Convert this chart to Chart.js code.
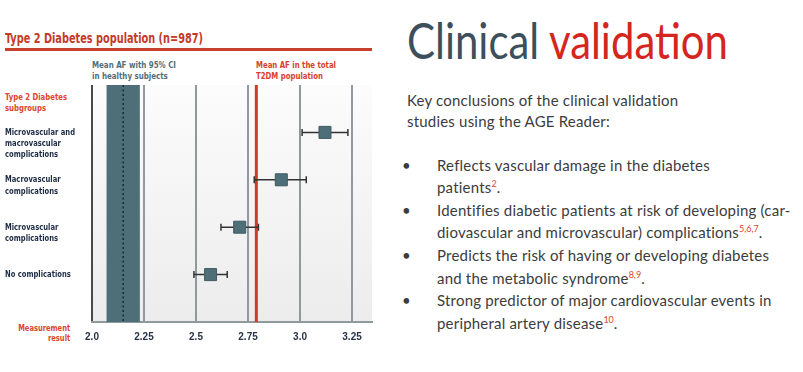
<!DOCTYPE html>
<html><head><meta charset="utf-8">
<script src="https://cdn.jsdelivr.net/npm/chart.js@4/dist/chart.umd.min.js"></script>
<style>
html,body{margin:0;padding:0;background:#fff;width:803px;height:372px;overflow:hidden;position:relative}
.abs{position:absolute;white-space:nowrap}
.narrow{font-family:'Liberation Sans Narrow','DejaVu Sans Condensed','Arial Narrow',sans-serif;font-weight:bold}
.body{font-family:Lato,'Open Sans',sans-serif;color:#3c3c3c;font-size:15px;letter-spacing:0.2px}
sup{color:#e0442e;font-size:9px;vertical-align:6px;line-height:0;letter-spacing:0}
</style></head><body>
<div class="abs narrow fitw" data-w="198" style="left:5px;top:29px;font-size:13.5px;line-height:18px;color:#c23b27;transform-origin:0 0">Type 2 Diabetes population (n=987)</div>
<div class="abs" style="left:5px;top:47.5px;width:367px;height:3px;background:#c8412c"></div>
<div class="abs narrow fitw" data-w="84" style="left:92px;top:58.5px;font-size:9.5px;line-height:11px;color:#4f6f78;transform-origin:0 0">Mean AF with 95% CI<br>in healthy subjects</div>
<div class="abs narrow fitw" data-w="80" style="left:256px;top:58.5px;font-size:9.5px;line-height:11px;color:#d8402b;transform-origin:0 0">Mean AF in the total<br>T2DM population</div>
<div class="abs narrow fitw" data-w="62" style="left:5px;top:90.5px;font-size:9.5px;line-height:11px;color:#e0442e;transform-origin:0 0">Type 2 Diabetes<br>subgroups</div>
<div class="abs narrow fitw" data-w="52" style="right:733px;text-align:right;top:322.5px;font-size:9.5px;line-height:10.5px;color:#e0442e;transform-origin:100% 0">Measurement<br>result</div>
<div id="wrap" class="abs" style="left:0;top:0;width:385px;height:350px"><canvas id="c"></canvas></div>

<div id="head" class="abs" style="left:407px;top:14.6px;font-family:Lato,'Open Sans',sans-serif;font-size:50px;line-height:50px;transform-origin:0 0"><span style="color:#3d4f5a">Clinical</span> <span style="color:#d4261e">validation</span></div>
<div class="abs body" style="left:407px;top:89.5px;line-height:21px">Key conclusions of the clinical validation<br>studies using the AGE Reader:</div>
<div class="abs body" style="left:402px;top:153.7px;line-height:22.6px">
<div style="position:relative;padding-left:35px">
<span style="position:absolute;left:0">•</span>Reflects vascular damage in the diabetes<br>patients<sup>2</sup>.</div>
<div style="position:relative;padding-left:35px">
<span style="position:absolute;left:0">•</span>Identifies diabetic patients at risk of developing (car-<br>diovascular and microvascular) complications<sup>5,6,7</sup>.</div>
<div style="position:relative;padding-left:35px">
<span style="position:absolute;left:0">•</span>Predicts the risk of having or developing diabetes<br>and the metabolic syndrome<sup>8,9</sup>.</div>
<div style="position:relative;padding-left:35px">
<span style="position:absolute;left:0">•</span>Strong predictor of major cardiovascular events in<br>peripheral artery disease<sup>10</sup>.</div>
</div>

<script>
// ---- data ----
const categories = [["Microvascular and","macrovascular","complications"],["Macrovascular","complications"],["Microvascular","complications"],["No complications"]];
const rowPos = [4, 3, 2, 1];
const meanAF = [3.12, 2.91, 2.71, 2.57];
const ciLow = [3.01, 2.78, 2.62, 2.49];
const ciHigh = [3.23, 3.03, 2.80, 2.65];
const healthyMean = 2.15;
const healthyLow = 2.07;
const healthyHigh = 2.23;
const t2dmMean = 2.79;
const xTicks = [2.0, 2.25, 2.5, 2.75, 3.0, 3.25];
const xTickLabels = ["2.0", "2.25", "2.5", "2.75", "3.0", "3.25"];

const NARROW = "'Liberation Sans Narrow','DejaVu Sans Condensed','Arial Narrow',sans-serif";

const forestPlugin = {
  id: 'forest',
  beforeDraw(chart) {
    const {ctx, chartArea: a} = chart;
    const g = ctx.createLinearGradient(0, a.top, 0, a.bottom);
    g.addColorStop(0, '#fcfcfc');
    g.addColorStop(1, '#ececec');
    ctx.save(); ctx.fillStyle = g; ctx.fillRect(a.left, a.top, a.right - a.left, a.bottom - a.top); ctx.restore();
  },
  beforeDatasetsDraw(chart) {
    const {ctx, chartArea: a, scales: {x, y}} = chart;
    ctx.save();
    const b1 = x.getPixelForValue(healthyLow), b2 = x.getPixelForValue(healthyHigh);
    ctx.fillStyle = '#4f6f78';
    ctx.fillRect(b1, a.top, b2 - b1, a.bottom - a.top);
    const hm = x.getPixelForValue(healthyMean);
    ctx.strokeStyle = '#1b2a30'; ctx.lineWidth = 1.5; ctx.setLineDash([2, 2.5]);
    ctx.beginPath(); ctx.moveTo(hm, a.top); ctx.lineTo(hm, a.bottom); ctx.stroke();
    ctx.setLineDash([]);
    const rm = x.getPixelForValue(t2dmMean);
    ctx.strokeStyle = '#d33a25'; ctx.lineWidth = 3;
    ctx.beginPath(); ctx.moveTo(rm, a.top); ctx.lineTo(rm, a.bottom); ctx.stroke();
    ctx.strokeStyle = '#333'; ctx.lineWidth = 1.5;
    for (let i = 0; i < meanAF.length; i++) {
      const py = y.getPixelForValue(rowPos[i]);
      const l = x.getPixelForValue(ciLow[i]), h = x.getPixelForValue(ciHigh[i]);
      ctx.beginPath();
      ctx.moveTo(l, py); ctx.lineTo(h, py);
      ctx.moveTo(l, py - 3.5); ctx.lineTo(l, py + 3.5);
      ctx.moveTo(h, py - 3.5); ctx.lineTo(h, py + 3.5);
      ctx.stroke();
    }
    ctx.restore();
  },
  afterDraw(chart) {
    const {ctx, scales: {y}} = chart;
    ctx.save();
    ctx.font = "bold 9.5px " + NARROW;
    ctx.fillStyle = '#1c2a44';
    ctx.textBaseline = 'middle';
    ctx.textAlign = 'left';
    const k = 70 / ctx.measureText(categories[0][0]).width;
    categories.forEach((lines, i) => {
      const py = y.getPixelForValue(rowPos[i]);
      lines.forEach((t, j) => {
        ctx.save();
        ctx.translate(5, py + j * 11.3);
        ctx.scale(k, 1);
        ctx.fillText(t, 0, 0);
        ctx.restore();
      });
    });
    ctx.restore();
  }
};

new Chart(document.getElementById('c'), {
  type: 'scatter',
  data: {
    datasets: [{
      data: meanAF.map((v, i) => ({x: v, y: rowPos[i]})),
      pointStyle: 'rect',
      radius: 8.5,
      hoverRadius: 8.5,
      backgroundColor: '#4f6f78',
      borderColor: '#3e5a62',
      borderWidth: 1
    }]
  },
  options: {
    responsive: true,
    maintainAspectRatio: false,
    animation: false,
    events: [],
    layout: {padding: {left: 92, top: 85, right: 13, bottom: 6}},
    plugins: {legend: {display: false}, tooltip: {enabled: false}},
    scales: {
      x: {
        type: 'linear',
        min: 2.0,
        max: 3.346,
        afterBuildTicks: s => { s.ticks = xTicks.map(v => ({value: v})); },
        afterFit: s => { s.height = 22; },
        ticks: {
          callback: (v) => { const k = xTicks.indexOf(v); return k >= 0 ? xTickLabels[k] : ''; },
          font: {family: "'Liberation Sans',Arial,sans-serif", weight: 'bold', size: 10},
          color: '#26334a',
          padding: 9,
          maxRotation: 0,
          autoSkip: false
        },
        grid: {
          drawTicks: false,
          color: c => (c.tick && c.tick.value === 2.0) ? '#4a4a4a' : '#8e9a9c',
          lineWidth: 2
        },
        border: {display: true, color: '#8e9a9c', width: 2}
      },
      y: {type: 'linear', min: 0, max: 5, display: false}
    }
  },
  plugins: [forestPlugin]
});

// fit text widths
document.querySelectorAll('.fitw').forEach(el => {
  const w = el.getBoundingClientRect().width;
  el.style.transform = 'scaleX(' + (parseFloat(el.dataset.w) / w) + ')';
});
const head = document.getElementById('head');
const hw = head.getBoundingClientRect().width;
head.style.transform = 'scaleX(' + (321 / hw) + ')';
</script>
</body></html>
